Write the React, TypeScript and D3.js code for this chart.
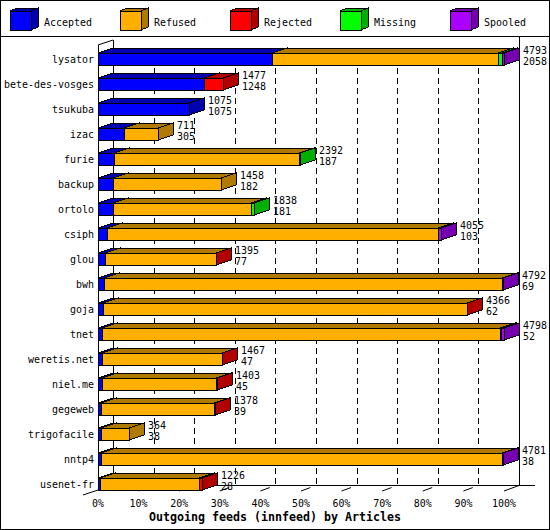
import React from "react";
import * as d3 from "d3";

const feeds = [
  "lysator", "bete-des-vosges", "tsukuba", "izac", "furie", "backup", "ortolo", "csiph", "glou",
  "bwh", "goja", "tnet", "weretis.net", "niel.me", "gegeweb", "trigofacile", "nntp4", "usenet-fr",
];
const totalArticles = [4793, 1477, 1075, 711, 2392, 1458, 1838, 4055, 1395, 4792, 4366, 4798, 1467, 1403, 1378, 364, 4781, 1226];
const accepted = [2058, 1248, 1075, 305, 187, 182, 181, 103, 77, 69, 62, 52, 47, 45, 39, 38, 38, 28];
const refused = [2665, 0, 0, 406, 2185, 1276, 1630, 3913, 1312, 4703, 4296, 4694, 1415, 1353, 1334, 326, 4735, 1168];
const rejected = [0, 229, 0, 0, 0, 0, 0, 0, 6, 0, 8, 12, 5, 5, 5, 0, 0, 30];
const missing = [48, 0, 0, 0, 20, 0, 27, 0, 0, 0, 0, 8, 0, 0, 0, 0, 0, 0];
const spooled = [22, 0, 0, 0, 0, 0, 0, 39, 0, 20, 0, 32, 0, 0, 0, 0, 8, 0];

const seriesNames = ["Accepted", "Refused", "Rejected", "Missing", "Spooled"];
const seriesValues = [accepted, refused, rejected, missing, spooled];
const frontColors = ["#0000FF", "#FFAF00", "#FF0000", "#00FF00", "#AA00FF"];
const darkColors = ["#0000B0", "#B07A00", "#B00000", "#00B000", "#7600B0"];
const tickPercents = [0, 10, 20, 30, 40, 50, 60, 70, 80, 90, 100];
const axisTitle = "Outgoing feeds (innfeed) by Articles";

const FONT = "'DejaVu Sans Mono', 'Liberation Mono', monospace";

function T(props: { x: number; y: number; s: string; anchor?: string; bold?: boolean; cw?: number; size?: number }) {
  const { x, y, s, anchor = "start", bold = false, cw = 6, size = 11 } = props;
  return (
    <text
      x={x}
      y={y}
      textAnchor={anchor}
      fontFamily={FONT}
      fontSize={size}
      fontWeight={bold ? "bold" : "normal"}
      textLength={s.length * cw}
      lengthAdjust="spacingAndGlyphs"
      fill="#000"
    >
      {s}
    </text>
  );
}

const DX = 15;
const DY = 5;
const HALF = 6;

function Box(props: { x0: number; x1: number; yc: number; c: string; d: string }) {
  const { x0, x1, yc, c, d } = props;
  const t = yc - HALF;
  const b = yc + HALF;
  const pts = (a: number[][]) => a.map((p) => p.join(",")).join(" ");
  return (
    <g stroke="#000" strokeWidth={1} shapeRendering="crispEdges">
      <polygon points={pts([[x0, t], [x0 + DX, t - DY], [x1 + DX, t - DY], [x1, t]])} fill={d} />
      <polygon points={pts([[x1, t], [x1 + DX, t - DY], [x1 + DX, b - DY], [x1, b]])} fill={d} />
      <polygon points={pts([[x0, t], [x1, t], [x1, b], [x0, b]])} fill={c} />
    </g>
  );
}

export default function App() {
  const W = 550;
  const H = 530;
  const maxTotal = d3.max(totalArticles) as number;
  const x = d3.scaleLinear().domain([0, maxTotal]).range([98, 504]);
  const xf = d3.scaleLinear().domain([0, 100]).range([98, 504]);
  const xb = d3.scaleLinear().domain([0, 100]).range([113, 519]);
  const y = d3.scalePoint<string>().domain(feeds).range([59, 59 + 25 * (feeds.length - 1)]);

  return (
    <svg width={W} height={H} style={{ position: "absolute", left: 0, top: 0, display: "block" }}>
      <rect x={0} y={0} width={W} height={H} fill="#fff" />
      <rect x={0.5} y={0.5} width={W - 1} height={H - 1} fill="none" stroke="#000" />
      <line x1={0} x2={W} y1={36.5} y2={36.5} stroke="#000" />

      {/* legend */}
      {seriesNames.map((n, k) => {
        const bx = 10 + 110 * k;
        const pts = (a: number[][]) => a.map((p) => p.join(",")).join(" ");
        return (
          <g key={n}>
            <g stroke="#000" shapeRendering="crispEdges">
              <polygon points={pts([[bx, 11], [bx + 7, 8], [bx + 28, 8], [bx + 21, 11]])} fill={darkColors[k]} />
              <polygon points={pts([[bx + 21, 11], [bx + 28, 8], [bx + 28, 27], [bx + 21, 30]])} fill={darkColors[k]} />
              <rect x={bx} y={11} width={21} height={19} fill={frontColors[k]} />
            </g>
            <T x={bx + 34} y={25.5} s={n} />
          </g>
        );
      })}

      {/* back wall & grid */}
      <g stroke="#000" shapeRendering="crispEdges">
        {tickPercents.slice(1, -1).map((p) => (
          <line key={p} x1={Math.round(xb(p)) + 0.5} x2={Math.round(xb(p)) + 0.5} y1={48} y2={485} strokeDasharray="6,4" />
        ))}
        <line x1={519.5} x2={519.5} y1={37} y2={486} />
        <line x1={113.5} x2={113.5} y1={40} y2={486} />
        <line x1={98} x2={535} y1={485.5} y2={485.5} />
        <line x1={98.5} x2={98.5} y1={45} y2={490} />
      </g>
      <line x1={98} y1={45} x2={113} y2={40} stroke="#000" />
      <line x1={83} y1={495} x2={98} y2={490} stroke="#000" />
      {tickPercents.slice(1).map((p) => (
        <line
          key={p}
          x1={xf(p)}
          y1={491}
          x2={xb(p)}
          y2={485.5}
          stroke="#000"
          strokeDasharray={p === 100 ? undefined : "10,8"}
        />
      ))}

      {/* bars */}
      {feeds.map((f, i) => {
        const yc = y(f) as number;
        let cum = 0;
        const boxes: any[] = [];
        seriesValues.forEach((vals, k) => {
          const v = vals[i];
          if (v > 0) {
            const x0 = Math.round(x(cum));
            const x1 = Math.round(x(cum + v));
            boxes.push(<Box key={k} x0={x0} x1={x1} yc={yc} c={frontColors[k]} d={darkColors[k]} />);
          }
          cum += v;
        });
        const tx = Math.round(x(totalArticles[i])) + DX + 4;
        return (
          <g key={f}>
            {boxes}
            <T x={94} y={yc + 4} s={f} anchor="end" />
            <T x={tx} y={yc - 5} s={String(totalArticles[i])} />
            <T x={tx} y={yc + 5.5} s={String(accepted[i])} />
          </g>
        );
      })}

      {/* x tick labels */}
      {tickPercents.map((p) => (
        <T key={p} x={xf(p)} y={507} s={`${p}%`} anchor="middle" />
      ))}
      <T x={275} y={521} s={axisTitle} anchor="middle" bold cw={7} size={12} />
    </svg>
  );
}
